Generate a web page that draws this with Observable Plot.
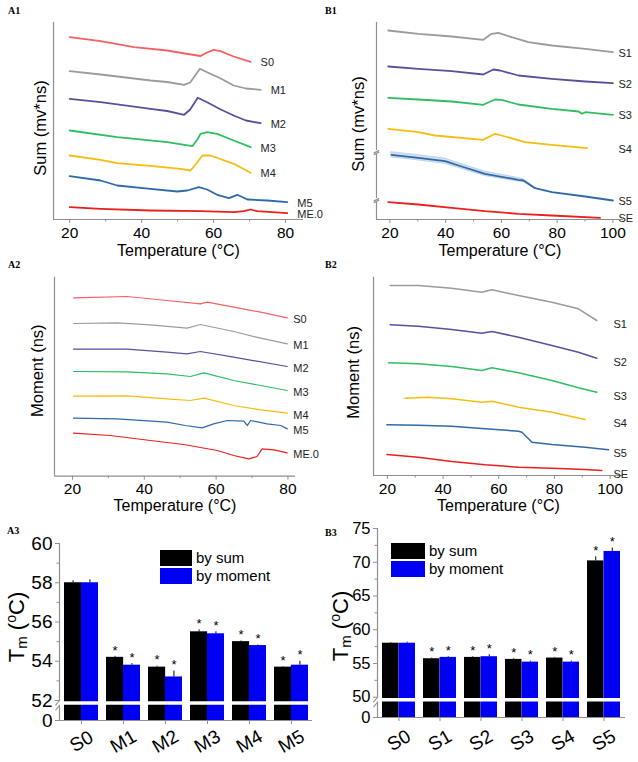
<!DOCTYPE html>
<html>
<head>
<meta charset="utf-8">
<script src="https://cdn.jsdelivr.net/npm/d3@7"></script>
<script src="https://cdn.jsdelivr.net/npm/@observablehq/plot@0.6"></script>
<style>
  body { margin: 0; background: #fff; }
  #fig { position: relative; width: 638px; height: 762px; background: #fff; overflow: hidden;
         font-family: "Liberation Sans", Arial, sans-serif; color: #000; }
  .plabel { position: absolute; font: bold 10px "Liberation Serif", "Times New Roman", serif; }
  .ytitle { position: absolute; white-space: nowrap; transform: translate(-50%, -50%) rotate(-90deg); font-size: 22px; }
  .ytitle sub { font-size: 15px; vertical-align: -3px; }
  .ytitle sup { font-size: 14px; vertical-align: 8px; }
  .lg { position: absolute; font-size: 15px; white-space: nowrap; }
  .box { position: absolute; }
</style>
</head>
<body>
<div id="fig"></div>
<script>
// ================= DATA =================
// A1: Sum (mv*ns) curves, [temperature °C, signal (arbitrary units)]
const a1Names  = ["S0", "M1", "M2", "M3", "M4", "M5", "ME.0"];
const a1Colors = ["#f26262", "#9b9b9b", "#5a4f9e", "#2fbd62", "#f6bd10", "#2e69aa", "#e8201e"];
const a1S0 = [[20,182.3],[28.6,178.3],[37.9,172.3],[47.1,169],[52,166],[56.4,163.5],[58.2,167],[60,169.7],[61.9,168.3],[65.6,163],[70.3,157.7]];
const a1M1 = [[20,148.3],[28.6,145],[42.5,139],[47.1,137.5],[51.8,134.7],[53.5,137],[56.2,150.7],[58.2,147.3],[62,141],[65.6,134],[69,131],[73.1,129.7]];
const a1M2 = [[20,120.7],[28.6,117.3],[42.5,110.7],[47.1,108.5],[51.8,104.7],[53.5,110],[55.6,121.7],[58.2,117.3],[62,110],[65.6,104],[69,99],[73.1,96.3]];
const a1M3 = [[20,89],[33.2,82.3],[47.1,77.3],[54.1,73.3],[55.5,80],[56.4,85.7],[58.2,87.3],[61,85.7],[65.6,79],[70.3,72.3]];
const a1M4 = [[20,64],[28.6,59.7],[33.2,56.3],[42.5,53.7],[50.8,50.7],[53.6,49],[55,55],[56.9,64],[59.2,64],[65.6,55.7],[70.3,46.7]];
const a1M5 = [[20,43.3],[28.6,39],[33.2,34],[42.5,30.7],[49.9,28],[52.7,29],[55.9,32.3],[58.2,30],[61,24.7],[64.3,21.3],[66.6,24.7],[69.4,20],[74.9,19],[80.5,17.3]];
const a1ME0 = [[20,12.3],[28.6,10.7],[42.5,9],[56.4,8.3],[65.6,7.3],[68.4,8.3],[70.3,10],[72.1,8.3],[80.5,6.3]];

// B1: Sum (mv*ns) curves
const b1Names  = ["S1", "S2", "S3", "S4", "S5", "SE"];
const b1Colors = ["#9b9b9b", "#5a4f9e", "#2fbd62", "#f6bd10", "#2e69aa", "#e8201e"];
const b1S1 = [[19.4,189],[30.2,185.7],[42.2,183],[53.5,179.7],[56.5,185.7],[58.9,186.7],[63.7,182.3],[69.7,177.3],[78.1,174],[90.1,170.7],[100,167.3]];
const b1S2 = [[19.4,153],[30.2,150.7],[42.2,148.3],[53.5,145],[57.1,150],[59.5,149],[66.1,144],[78.1,140.7],[90.1,138],[100,136.3]];
const b1S3 = [[19.4,121.7],[30.2,120],[42.2,118],[53.5,114.7],[57.7,120],[60.1,119.7],[66.1,115],[78.1,110.7],[87.7,108],[88.9,105.7],[90.1,107.3],[100,104.7]];
const b1S4 = [[19.4,90.7],[30.2,87.3],[36.2,84],[53.5,79.7],[57.7,85.7],[60.1,84],[68.5,77.3],[78.1,74.7],[90.7,71.3]];
const b1S5 = [[20.6,64.7],[30.2,61.7],[39.8,58.3],[44.6,54],[54.1,45.7],[66.1,39.7],[67.9,39],[72.1,31.3],[78.1,27.3],[90.1,23],[100,19]];
const b1S5Err = [2.6,2.6,2.6,2.4,2.2,1.8,1.4,0.6,0,0,0];
const b1SE = [[19.4,17.3],[30.2,15],[42.2,11.7],[54.1,8.3],[66.1,5.7],[78.1,4],[95.4,1.7]];
const b1Breaks = [67, 19];

// A2: Moment (ns) curves
const a2Names  = a1Names;
const a2Colors = a1Colors;
const a2S0 = [[20.3,178.3],[35.2,179.7],[46.3,175.7],[55.6,172.3],[57.5,174],[64.9,169],[72.4,164],[79.8,158.3]];
const a2M1 = [[20.3,152.7],[32.4,153.3],[41.7,151.3],[51.9,148],[55.6,151.7],[64.9,144.7],[72.4,138],[79.8,132.3]];
const a2M2 = [[20.3,127],[35.2,127],[46.3,124],[51.9,122.3],[55.6,124.7],[64.9,119],[79.8,109.7]];
const a2M3 = [[20.3,104.7],[35.2,104.3],[46.3,102.3],[52.8,99.7],[56.6,103.3],[64.9,95.7],[72.4,90.7],[79.8,85.7]];
const a2M4 = [[20.3,80],[35.2,80.3],[46.3,77.3],[52.8,75.7],[56.6,78],[64.9,70.7],[72.4,66.3],[79.8,63]];
const a2M5 = [[20.3,58],[32.4,57.3],[46.3,54],[51.4,50.7],[56.1,48.3],[59.3,52.3],[63.1,55.7],[67.7,55],[68.7,50.7],[69.6,55.7],[74.2,52.3],[78,50.7],[79.8,47.3]];
const a2ME0 = [[20.3,43],[30.5,40.7],[41.7,35.7],[51,31.7],[60.3,25.7],[64.9,20.7],[69.1,17.3],[71.4,19.7],[72.8,27.3],[76.1,26.3],[79.8,23.3]];

// B2: Moment (ns) curves
const b2Names  = b1Names;
const b2Colors = b1Colors;
const b2S1 = [[21,190],[31.1,190],[43.1,187.3],[53.9,183.3],[57.5,185.7],[67.1,180],[79.1,173.3],[88.6,166.7],[95.2,155]];
const b2S2 = [[21,150.7],[31.1,149.3],[43.1,146],[53.9,142.3],[57.5,144],[67.1,138.3],[79.1,130],[88.6,123.3],[95.2,117.3]];
const b2S3 = [[20.4,112.7],[31.1,111.7],[43.1,109],[53.9,105],[57.5,107.7],[67.1,102.7],[79.1,95],[88.6,87.7],[95.2,83.3]];
const b2S4 = [[26.3,77.3],[34.7,78.3],[43.1,76.7],[53.9,73.3],[57.5,74.3],[67.1,68.3],[79.1,63.3],[91,56]];
const b2S5 = [[19.8,50.7],[31.1,50.3],[43.1,49.3],[55.1,46.7],[67.1,44.3],[68.3,43.3],[70.7,36.7],[71.9,33.3],[79.1,31],[91,28.3],[99.4,25.7]];
const b2SE = [[19.8,21],[31.1,18.3],[43.1,14],[55.1,10.7],[67.1,8.3],[79.1,7.3],[91,6],[97,5]];

const tempTicksA = [20, 40, 60, 80];
const tempTicksB = [20, 40, 60, 80, 100];

// A3: Tm bars
const a3Groups = ["S0", "M1", "M2", "M3", "M4", "M5"];
const a3Sum    = [58.0, 54.2, 53.7, 55.5, 55.0, 53.7];
const a3SumErr = [0.1, 0.05, 0.05, 0.1, 0.03, 0.03];
const a3Mom    = [58.0, 53.8, 53.2, 55.4, 54.8, 53.8];
const a3MomErr = [0.15, 0.08, 0.3, 0.1, 0.03, 0.2];
const a3Sig    = [false, true, true, true, true, true];
const a3YTicks = [0, 52, 54, 56, 58, 60];
const a3YMinor = [53, 55, 57, 59];

// B3: Tm bars
const b3Groups = ["S0", "S1", "S2", "S3", "S4", "S5"];
const b3Sum    = [58.0, 55.7, 55.9, 55.6, 55.8, 70.2];
const b3SumErr = [0.1, 0.1, 0.1, 0.1, 0.1, 0.6];
const b3Mom    = [58.0, 55.9, 56.0, 55.2, 55.2, 71.6];
const b3MomErr = [0.15, 0.1, 0.3, 0.15, 0.15, 0.5];
const b3Sig    = [false, true, true, true, true, true];
const b3YTicks = [0, 50, 55, 60, 65, 70, 75];
const b3YMinor = [52.5, 57.5, 62.5, 67.5, 72.5];

const legendLabels = ["by sum", "by moment"];
const barColors = ["#000000", "#0000f4"];

// ================= DRAWING =================
const FONT = '"Liberation Sans", Arial, sans-serif';
const AXIS = "#8f8f8f";
const fig = document.getElementById("fig");
const slashShape = {draw(context, l) { context.moveTo(0, l / 2); context.lineTo(0, -l / 2); }};

function place(el, left, top) {
  el.style.position = "absolute";
  el.style.left = left + "px";
  el.style.top = top + "px";
  fig.appendChild(el);
}
function rowsFrom(names, list) {
  return names.flatMap((name, i) => list[i].map(([t, v]) => ({series: name, t, v})));
}
function lastRows(names, list) {
  return names.map((name, i) => {
    const p = list[i][list[i].length - 1];
    return {series: name, t: p[0], v: p[1]};
  });
}

function linePanel(o) {
  const rows = rowsFrom(o.names, o.series);
  const ends = lastRows(o.names, o.series);
  const x0 = o.xDomain[0];
  const y0 = o.yDomain[0], y1 = o.yDomain[1];
  const cuts = (o.breaks || []).slice().sort((a, b) => a - b);
  const segs = [];
  let lo = y0;
  for (const b of cuts) { segs.push({a: lo, b: b - 2}); lo = b + 2; }
  segs.push({a: lo, b: y1});
  const marks = [
    Plot.ruleY([y0], {stroke: AXIS, strokeWidth: 1.2}),
    Plot.ruleX(segs, {x: () => x0, y1: "a", y2: "b", stroke: AXIS, strokeWidth: 1.2}),
    Plot.axisX({ticks: o.xTicks, tickSize: 4, tickPadding: 3, fontSize: 15.5, stroke: AXIS, label: null}),
    Plot.axisX({ticks: o.xTicks.map(t => t + 10).filter(t => t < o.xDomain[1]), tickSize: 2.5, tickFormat: () => "", stroke: AXIS, label: null}),
    Plot.text(["Temperature (°C)"], {frameAnchor: "bottom", lineAnchor: "middle", textAnchor: "middle", dy: o.xTitleDy, fontSize: 16}),
    Plot.text([o.ylabel], {frameAnchor: "left", lineAnchor: "middle", textAnchor: "middle", rotate: -90, dx: o.yTitleDx, dy: o.yTitleDy, fontSize: 16.5})
  ];
  if (cuts.length) {
    marks.push(Plot.link(cuts, {x1: () => x0 - 1, x2: () => x0 + 1, y1: d => d - 2.2, y2: d => d + 0.6, stroke: AXIS, strokeWidth: 1.2}));
    marks.push(Plot.link(cuts, {x1: () => x0 - 1, x2: () => x0 + 1, y1: d => d - 0.6, y2: d => d + 2.2, stroke: AXIS, strokeWidth: 1.2}));
  }
  if (o.band) {
    marks.push(Plot.areaY(o.band.rows, {x: "t", y1: "lo", y2: "hi", fill: o.band.color, fillOpacity: 0.6, stroke: o.band.color, strokeWidth: 0.8}));
  }
  marks.push(Plot.line(rows, {x: "t", y: "v", z: "series", stroke: "series", strokeWidth: o.strokeWidth}));
  if (o.labelsAtRight) {
    marks.push(Plot.text(ends, {y: "v", text: "series", frameAnchor: "right", dx: o.labelDx, dy: o.labelDy, textAnchor: "start", fontSize: 11, fill: "#222"}));
  } else {
    marks.push(Plot.text(ends, {x: "t", y: "v", text: "series", dx: o.labelDx, dy: o.labelDy, textAnchor: "start", fontSize: 11, fill: "#222"}));
  }
  return Plot.plot({
    width: o.width, height: o.height,
    marginLeft: o.mL, marginRight: o.mR, marginTop: o.mT, marginBottom: o.mB,
    style: {background: "transparent", fontFamily: FONT, color: "#000", overflow: "visible"},
    x: {domain: o.xDomain},
    y: {domain: o.yDomain, axis: null},
    color: {domain: o.names, range: o.colors},
    marks
  });
}

function barPanel(o) {
  const rows = o.groups.map((g, i) => ({g, sum: o.sum[i], sumErr: o.sumErr[i], mom: o.mom[i], momErr: o.momErr[i], sig: o.sig[i]}));
  const innerW = o.width - o.mL - o.mR;
  const step = innerW / o.groups.length;
  const bw = step * 0.8;
  const q = bw / 4;
  const sig = rows.filter(d => d.sig);
  return Plot.plot({
    width: o.width, height: o.height,
    marginLeft: o.mL, marginRight: o.mR, marginTop: o.mT, marginBottom: o.mB,
    style: {background: "transparent", fontFamily: FONT, color: "#000", overflow: "visible"},
    x: {domain: o.groups, paddingInner: 0.2, paddingOuter: 0.1},
    y: {type: "linear", domain: o.yDomain, range: o.yRange},
    marks: [
      Plot.barY(rows, {x: "g", y1: 0, y2: "sum", fill: barColors[0], insetRight: bw / 2}),
      Plot.barY(rows, {x: "g", y1: 0, y2: "mom", fill: barColors[1], insetLeft: bw / 2}),
      Plot.ruleX(rows, {x: "g", y1: "sum", y2: d => d.sum + d.sumErr, dx: -q, stroke: "#000", strokeWidth: 1}),
      Plot.ruleX(rows, {x: "g", y1: "mom", y2: d => d.mom + d.momErr, dx: q, stroke: "#000", strokeWidth: 1}),
      Plot.ruleY(rows, {x: "g", y: d => d.sum + d.sumErr, insetLeft: q - 3, insetRight: 3 * q - 3, stroke: "#000", strokeWidth: 1}),
      Plot.ruleY(rows, {x: "g", y: d => d.mom + d.momErr, insetLeft: 3 * q - 3, insetRight: q - 3, stroke: "#000", strokeWidth: 1}),
      Plot.text(sig, {x: "g", y: d => d.sum + d.sumErr, text: () => "*", dx: -q, dy: -6, fontSize: 13}),
      Plot.text(sig, {x: "g", y: d => d.mom + d.momErr, text: () => "*", dx: q, dy: -6, fontSize: 13}),
      Plot.ruleY([0], {stroke: AXIS, strokeWidth: 1.2}),
      Plot.frame({anchor: "left", stroke: AXIS, strokeWidth: 1.2}),
      Plot.ruleY([o.gapValue], {stroke: "#fff", strokeWidth: 3.5, insetLeft: -6}),
      Plot.vector([o.gapValue], {y: d => d, frameAnchor: "left", length: 6, rotate: 40, anchor: "middle", shape: slashShape, dy: -2.5, stroke: AXIS, strokeWidth: 1}),
      Plot.vector([o.gapValue], {y: d => d, frameAnchor: "left", length: 6, rotate: 40, anchor: "middle", shape: slashShape, dy: 2.5, stroke: AXIS, strokeWidth: 1}),
      Plot.axisY({ticks: o.yTicks, tickSize: 4, tickPadding: 3, fontSize: o.yFont, stroke: AXIS, label: null}),
      Plot.axisY({ticks: o.yMinor, tickSize: 2.5, tickFormat: () => "", stroke: AXIS, label: null}),
      Plot.axisX({tickSize: 4, tickFormat: () => "", stroke: AXIS, label: null}),
      Plot.text(o.groups, {x: d => d, frameAnchor: "bottom", lineAnchor: "middle", textAnchor: "middle", dy: o.xLabelDy, rotate: -30, fontSize: 19})
    ]
  });
}

// ---- A1 ----
place(linePanel({
  names: a1Names, colors: a1Colors, series: [a1S0, a1M1, a1M2, a1M3, a1M4, a1M5, a1ME0],
  width: 318, height: 255, mL: 53, mR: 15, mT: 22, mB: 36,
  xDomain: [15.5, 85], yDomain: [0, 197], xTicks: tempTicksA,
  ylabel: "Sum (mv*ns)", yTitleDx: -12.5, yTitleDy: 7, xTitleDy: 31,
  strokeWidth: 1.8, labelDx: 10, labelDy: 1
}), 0, 0);

// ---- B1 ----
const b1Band = b1S5.map(([t, v], i) => ({t, lo: v - b1S5Err[i], hi: v + b1S5Err[i]})).filter((d, i) => b1S5Err[i] > 0);
place(linePanel({
  names: b1Names, colors: b1Colors, series: [b1S1, b1S2, b1S3, b1S4, b1S5, b1SE],
  width: 320, height: 255, mL: 58, mR: 15, mT: 22, mB: 36,
  xDomain: [15.2, 103.8], yDomain: [0, 197], xTicks: tempTicksB,
  ylabel: "Sum (mv*ns)", yTitleDx: -18, yTitleDy: 3, xTitleDy: 31,
  strokeWidth: 1.8, labelsAtRight: true, labelDx: -5, labelDy: 1,
  breaks: b1Breaks, band: {rows: b1Band, color: "#b4cbe6"}
}), 318, 0);

// ---- A2 ----
place(linePanel({
  names: a2Names, colors: a2Colors, series: [a2S0, a2M1, a2M2, a2M3, a2M4, a2M5, a2ME0],
  width: 318, height: 255, mL: 54, mR: 23, mT: 21.7, mB: 34.3,
  xDomain: [15, 82.1], yDomain: [0, 199], xTicks: tempTicksA,
  ylabel: "Moment (ns)", yTitleDx: -17, yTitleDy: -6, xTitleDy: 30,
  strokeWidth: 1.2, labelDx: 6, labelDy: 2
}), 0, 255);

// ---- B2 ----
place(linePanel({
  names: b2Names, colors: b2Colors, series: [b2S1, b2S2, b2S3, b2S4, b2S5, b2SE],
  width: 320, height: 255, mL: 55, mR: 15, mT: 21.7, mB: 35,
  xDomain: [15, 104.8], yDomain: [0, 198.3], xTicks: tempTicksB,
  ylabel: "Moment (ns)", yTitleDx: -19.5, yTitleDy: -4, xTitleDy: 30,
  strokeWidth: 1.5, labelsAtRight: true, labelDx: -10, labelDy: 4
}), 318, 255);

// ---- A3 ----
place(barPanel({
  groups: a3Groups, sum: a3Sum, sumErr: a3SumErr, mom: a3Mom, momErr: a3MomErr, sig: a3Sig,
  width: 318, height: 252, mL: 59, mR: 6, mT: 33, mB: 42,
  yDomain: [0, 52, 60], yRange: [210, 190, 33], gapValue: 45.5,
  yTicks: a3YTicks, yMinor: a3YMinor, yFont: 19, xLabelDy: 21
}), 0, 510);

// ---- B3 ----
place(barPanel({
  groups: b3Groups, sum: b3Sum, sumErr: b3SumErr, mom: b3Mom, momErr: b3MomErr, sig: b3Sig,
  width: 320, height: 252, mL: 59, mR: 13, mT: 18, mB: 45,
  yDomain: [0, 50, 75], yRange: [207, 186.7, 18], gapValue: 43.7,
  yTicks: b3YTicks, yMinor: b3YMinor, yFont: 16.5, xLabelDy: 23
}), 318, 510);

// ---- panel letters ----
[["A1", 8, 5], ["B1", 325, 5], ["A2", 8, 259], ["B2", 325, 259], ["A3", 7, 525], ["B3", 325, 527]].forEach(([t, x, y]) => {
  const d = document.createElement("div");
  d.className = "plabel"; d.textContent = t;
  d.style.left = x + "px"; d.style.top = y + "px";
  fig.appendChild(d);
});

// ---- Tm titles ----
[[16, 627], [340, 626]].forEach(([cx, cy]) => {
  const d = document.createElement("div");
  d.className = "ytitle";
  d.innerHTML = "T<sub>m</sub> (<sup>o</sup>C)";
  d.style.left = cx + "px"; d.style.top = cy + "px";
  fig.appendChild(d);
});

// ---- legends ----
function legend(x, y, w) {
  legendLabels.forEach((lab, i) => {
    const b = document.createElement("div");
    b.className = "box";
    b.style.left = x + "px"; b.style.top = (y + i * 18) + "px";
    b.style.width = w + "px"; b.style.height = "16px";
    b.style.background = barColors[i];
    fig.appendChild(b);
    const t = document.createElement("div");
    t.className = "lg"; t.textContent = lab;
    t.style.left = (x + w + 4) + "px"; t.style.top = (y + i * 18 - 1) + "px";
    fig.appendChild(t);
  });
}
legend(160, 550, 32);
legend(391, 543, 34);
</script>
</body>
</html>
